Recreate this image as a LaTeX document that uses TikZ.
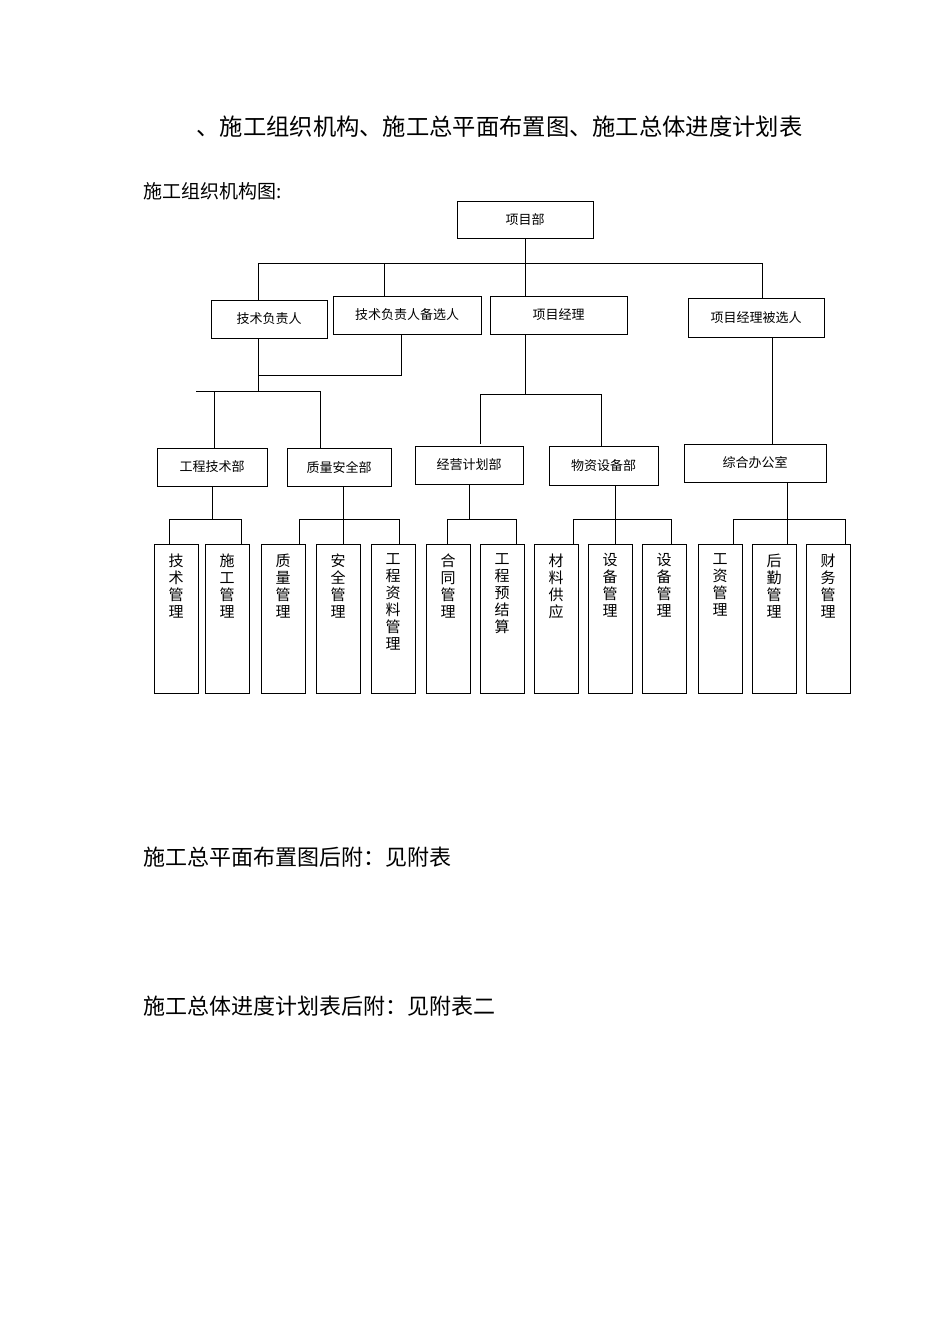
\documentclass[tikz,border=0pt]{standalone}
\usepackage{fontspec}
\setmainfont{Noto Sans CJK SC}
\begin{document}
\begin{tikzpicture}[x=1pt,y=-1pt,
 bx/.style={draw,line width=1pt,inner sep=0pt,font=\fontsize{13}{15}\selectfont},
 leaf/.style={draw,line width=1pt,inner sep=0pt,minimum width=44pt,minimum height=149pt,anchor=north west},
 ln/.style={line width=1pt}]
\useasboundingbox (0,0) rectangle (950,1344);
\node[anchor=west,font=\fontsize{23.3}{26}\selectfont] (title) at (193,127) {、施工组织机构、施工总平面布置图、施工总体进度计划表};
\node[anchor=west,font=\fontsize{19}{22}\selectfont] (sub) at (140,191) {施工组织机构图:};
\node[anchor=west,font=\fontsize{22}{25}\selectfont] (t2) at (140,857) {施工总平面布置图后附：见附表};
\node[anchor=west,font=\fontsize{22}{25}\selectfont] (t3) at (140,1006) {施工总体进度计划表后附：见附表二};
% boxes
\newcommand{\bxnode}[6]{\node[bx,minimum width=#4-#2,minimum height=#5-#3] (#1) at ({(#2+#4)/2},{(#3+#5)/2}) {#6};}
\bxnode{xmb}{457}{201}{593}{238}{项目部}
\bxnode{jsf}{211}{300}{327}{338}{技术负责人}
\bxnode{jsb}{333}{296}{481}{334}{技术负责人备选人}
\bxnode{xmj}{490}{296}{627}{334}{项目经理}
\bxnode{xmbx}{688}{298}{824}{337}{项目经理被选人}
\bxnode{gcj}{157}{448}{267}{486}{工程技术部}
\bxnode{zla}{287}{448}{391}{486}{质量安全部}
\bxnode{jyj}{415}{446}{523}{484}{经营计划部}
\bxnode{wzs}{549}{446}{658}{485}{物资设备部}
\bxnode{zhb}{684}{444}{826}{482}{综合办公室}
% leaves
\newcommand{\lf}[3]{\node[leaf] (#1) at (#2,544) {}; \node[anchor=north,align=center,font=\fontsize{15}{17}\selectfont] at ({#2+22},550) {#3};}
\lf{l1}{154}{技\\术\\管\\理}
\lf{l2}{205}{施\\工\\管\\理}
\lf{l3}{261}{质\\量\\管\\理}
\lf{l4}{316}{安\\全\\管\\理}
\lf{l5}{371}{工\\程\\资\\料\\管\\理}
\lf{l6}{426}{合\\同\\管\\理}
\lf{l7}{480}{工\\程\\预\\结\\算}
\lf{l8}{534}{材\\料\\供\\应}
\lf{l9}{588}{设\\备\\管\\理}
\lf{l10}{642}{设\\备\\管\\理}
\lf{l11}{698}{工\\资\\管\\理}
\lf{l12}{752}{后\\勤\\管\\理}
\lf{l13}{806}{财\\务\\管\\理}
% connectors
\coordinate (c1) at (525,238);
\coordinate (c2) at (525,296);
\draw[ln] (c1) -- (c2);
\draw[ln] (258,263) -- (762,263);
\draw[ln] (258,263) -- (258,300);
\draw[ln] (384,263) -- (384,296);
\draw[ln] (762,263) -- (762,298);
\draw[ln] (258,338) -- (258,391);
\draw[ln] (258,375) -- (401,375) -- (401,334);
\draw[ln] (196,391) -- (320,391);
\draw[ln] (214,391) -- (214,448);
\draw[ln] (320,391) -- (320,448);
\draw[ln] (525,334) -- (525,394);
\draw[ln] (480,444) -- (480,394) -- (601,394) -- (601,446);
\draw[ln] (772,337) -- (772,444);
% third level
\draw[ln] (212,486) -- (212,519); \draw[ln] (169,544) -- (169,519) -- (241,519) -- (241,544);
\draw[ln] (343,486) -- (343,544); \draw[ln] (299,544) -- (299,519) -- (399,519) -- (399,544);
\draw[ln] (469,484) -- (469,519); \draw[ln] (447,544) -- (447,519) -- (516,519) -- (516,544);
\draw[ln] (615,485) -- (615,544); \draw[ln] (573,544) -- (573,519) -- (671,519) -- (671,544);
\draw[ln] (787,482) -- (787,544); \draw[ln] (733,544) -- (733,519) -- (845,519) -- (845,544);
\end{tikzpicture}
\end{document}
